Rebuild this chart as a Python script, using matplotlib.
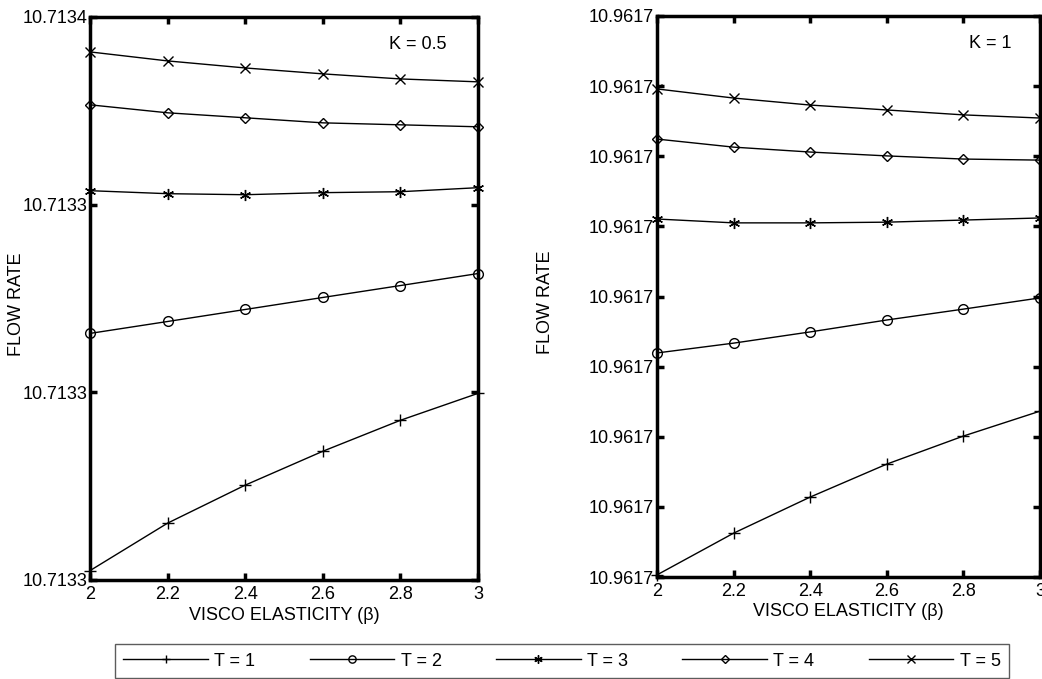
import numpy as np
import matplotlib.pyplot as plt
from matplotlib.ticker import FormatStrFormatter

plt.rcParams['font.family'] = ['Liberation Sans', 'DejaVu Sans']

# данные: вязкоупругость (beta) и расход при K = 0.5 и K = 1
beta = [2.0, 2.2, 2.4, 2.6, 2.8, 3.0]
labels = ['T = 1', 'T = 2', 'T = 3', 'T = 4', 'T = 5']
markers = ['+', 'o', (6, 2, 0), 'D', 'x']
msizes = [8, 7, 8, 5.5, 7]

flow_k05 = [
    [10.71330100, 10.71330606, 10.71331011, 10.71331372, 10.71331702, 10.71331989],
    [10.71332628, 10.71332755, 10.71332883, 10.71333011, 10.71333138, 10.71333266],
    [10.71334149, 10.71334117, 10.71334106, 10.71334128, 10.71334138, 10.71334181],
    [10.71335064, 10.71334979, 10.71334926, 10.71334872, 10.71334851, 10.71334830],
    [10.71335628, 10.71335532, 10.71335457, 10.71335394, 10.71335340, 10.71335309],
]
flow_k1 = [
    [10.96169006, 10.96169125, 10.96169228, 10.96169322, 10.96169402, 10.96169473],
    [10.96169639, 10.96169667, 10.96169699, 10.96169733, 10.96169764, 10.96169796],
    [10.96170021, 10.96170010, 10.96170010, 10.96170012, 10.96170018, 10.96170024],
    [10.96170249, 10.96170226, 10.96170212, 10.96170201, 10.96170192, 10.96170189],
    [10.96170392, 10.96170366, 10.96170346, 10.96170332, 10.96170318, 10.96170309],
]

yticks_k05 = [10.71330, 10.71332, 10.71334, 10.71336]
yticks_k1 = list(np.linspace(10.96169, 10.961706, 9))

W, H = 1042, 679
fig = plt.figure(figsize=(W / 100, H / 100), dpi=100)
# оси в пикселях: слева, сверху, справа, снизу
ax1 = fig.add_axes([90 / W, 1 - 580 / H, 388 / W, 563 / H])
ax2 = fig.add_axes([657 / W, 1 - 577 / H, 383 / W, 561 / H])

setup = [
    (ax1, flow_k05, yticks_k05, 'K = 0.5', 0.92, -0.168, -0.048),
    (ax2, flow_k1, yticks_k1, 'K = 1', 0.925, -0.269, -0.046),
]

for ax, flow, yt, title, tx, ylx, xly in setup:
    lines = []
    for vals, m, ms, lab in zip(flow, markers, msizes, labels):
        l, = ax.plot(beta, vals, color='black', lw=1.0, marker=m,
                     markersize=ms, markerfacecolor='none',
                     markeredgecolor='black', markeredgewidth=1.0,
                     label=lab, clip_on=False)
        lines.append(l)
    ax.set_xlim(2, 3)
    ax.set_ylim(yt[0], yt[-1])
    ax.set_yticks(yt)
    ax.yaxis.set_major_formatter(FormatStrFormatter('%.4f'))
    ax.set_xticks(beta)
    ax.set_xticklabels(['2', '2.2', '2.4', '2.6', '2.8', '3'])
    ax.tick_params(direction='in', length=5, width=2.5, labelsize=13,
                   top=True, right=True)
    ax.tick_params(axis='y', pad=2)
    ax.tick_params(axis='x', pad=4)
    for s in ax.spines.values():
        s.set_linewidth(2.5)
    ax.set_xlabel('VISCO ELASTICITY (β)', fontsize=13)
    ax.xaxis.set_label_coords(0.5, xly)
    ax.set_ylabel('FLOW RATE', fontsize=13)
    ax.yaxis.set_label_coords(ylx, 0.49)
    ax.text(tx, 0.967, title, transform=ax.transAxes, ha='right',
            va='top', fontsize=13)

leg = fig.legend(lines, labels, loc='center', ncol=5,
                 bbox_to_anchor=(562 / W, 1 - 661 / H), fontsize=13,
                 handlelength=4.7, handletextpad=0.35, columnspacing=3.0,
                 markerscale=0.75, frameon=True, fancybox=False,
                 borderpad=0.45, borderaxespad=0)
leg.get_frame().set_edgecolor('#333333')
leg.get_frame().set_linewidth(1.0)

fig.savefig('out.png', dpi=100)
